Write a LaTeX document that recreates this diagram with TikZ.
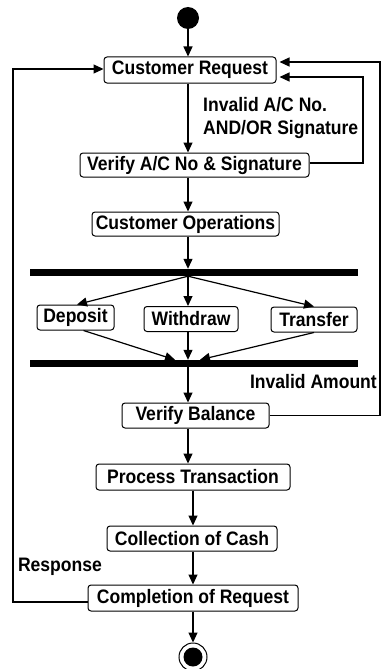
\documentclass[tikz,border=0pt]{standalone}
\usepackage{fontspec}
\setmainfont{Liberation Sans}[FakeStretch=0.9]
\usetikzlibrary{arrows.meta}

\newcommand{\lblfont}{\fontsize{19.5}{23}\selectfont\bfseries}

\tikzset{
  actbox/.style={draw, rounded corners=3pt, line width=1pt, inner sep=0pt,
                 minimum height=25pt, font=\lblfont},
  syncbar/.style={fill=black, inner sep=0pt, minimum width=328pt, minimum height=7pt},
  arr/.style={line width=1.2pt, -{Triangle[length=10pt,width=9pt]}},
  note/.style={font=\lblfont, inner sep=0pt}
}

\begin{document}
\begin{tikzpicture}[x=1pt,y=-1pt]
  \useasboundingbox (0,0) rectangle (385,669);

  % initial and final states
  \node[circle, fill=black, minimum size=22pt, inner sep=0pt] (start) at (188,18) {};
  \node[circle, draw, line width=1pt, minimum size=28pt, inner sep=0pt] (end) at (193,657) {};
  \node[circle, fill=black, minimum size=19pt, inner sep=0pt] (endin) at (end.center) {};

  % activities
  \node[actbox, minimum width=172pt, minimum height=26pt] (cr)  at (190,70)    {Customer Request};
  \node[actbox, minimum width=229pt, minimum height=24pt] (vac) at (194.5,165) {Verify A/C No \& Signature};
  \node[actbox, minimum width=187pt, minimum height=24pt] (co)  at (185.5,224) {Customer Operations};
  \node[actbox, minimum width=77pt]  (dep) at (75.5,317.5) {Deposit};
  \node[actbox, minimum width=94pt]  (wd)  at (191,319)    {Withdraw};
  \node[actbox, minimum width=86pt]  (tr)  at (314,319.5)  {Transfer};
  \node[actbox, minimum width=147pt] (vb)  at (195.5,415.5) {Verify Balance};
  \node[actbox, minimum width=194pt, minimum height=26pt] (pt)  at (193,477)   {Process Transaction};
  \node[actbox, minimum width=170pt] (coc) at (192,538.5) {Collection of Cash};
  \node[actbox, minimum width=210pt, minimum height=26pt] (cor) at (193,598)   {Completion of Request};

  % fork and join bars
  \node[syncbar] (fork) at (194,272.5) {};
  \node[syncbar] (join) at (194,363.5) {};

  % guard labels
  \node[note, anchor=west, align=left] (g1) at (203,118.5) {Invalid A/C No.\\AND/OR Signature};
  \node[note, anchor=east] (g2) at (377,382) {Invalid Amount};
  \node[note] (g3) at (60,567) {Response};

  % vertical rails of the return paths
  \coordinate (lft) at (13,0);
  \coordinate (rin) at (363,0);
  \coordinate (rout) at (380,0);

  % main flow
  \draw[arr] (start) -- (start |- cr.north);
  \draw[arr] (cr.south -| start) -- (vac.north -| start);
  \draw[arr] (vac.south -| start) -- (co.north -| start);
  \draw[arr] (co.south -| start) -- (fork.north -| start);

  \draw[arr] (fork.south -| start) -- ([xshift=1.5pt]dep.north);
  \draw[arr] (fork.south -| start) -- (wd.north -| start);
  \draw[arr] (fork.south -| start) -- (tr.north);

  \draw[arr] ([xshift=8pt]dep.south) -- ([xshift=-19pt]join.north);
  \draw[arr] (wd.south -| start) -- (join.north -| start);
  \draw[arr] (tr.south) -- ([xshift=6pt]join.north);

  \draw[arr] (join.south -| start) -- (vb.north -| start);
  \draw[arr] (vb.south -| start) -- (pt.north -| start);
  \draw[arr] (pt.south -| end) -- (coc.north -| end);
  \draw[arr] (coc.south -| end) -- (cor.north -| end);
  \draw[arr] (cor.south -| end) -- (end.north);

  % loops back to the customer request
  \draw[arr] ([yshift=-4pt]cor.west) -| ([yshift=1pt]lft |- cr.west) -- ([yshift=1pt]cr.west);
  \draw[arr, shorten >=3pt] ([yshift=2pt]vac.east) -| ([yshift=-7pt]rin |- cr.east) -- ([yshift=-7pt]cr.east);
  \draw[arr, shorten >=3pt] (vb.east) -| ([yshift=8pt]rout |- cr.east) -- ([yshift=8pt]cr.east);
\end{tikzpicture}
\end{document}
